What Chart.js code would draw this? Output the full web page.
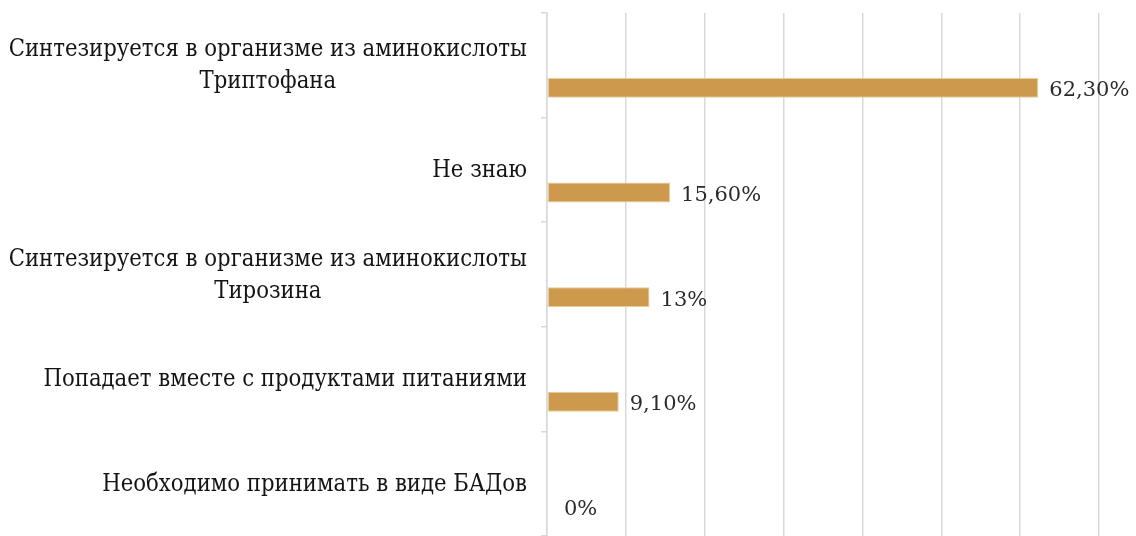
<!DOCTYPE html>
<html lang="ru">
<head>
<meta charset="utf-8">
<script src="https://cdn.jsdelivr.net/npm/chart.js@4/dist/chart.umd.min.js"></script>
<style>
    html, body { margin: 0; padding: 0; background: #ffffff; }
    #wrap { width: 1136px; height: 536px; }
</style>
</head>
<body>
<div id="wrap"><canvas id="answersChart"></canvas></div>
<script>
// Answers, top to bottom; multi-line answers are split into arrays
const CATEGORIES = [
    ["Синтезируется в организме из аминокислоты", "Триптофана"],
    ["Не знаю"],
    ["Синтезируется в организме из аминокислоты", "Тирозина"],
    ["Попадает вместе с продуктами питаниями"],
    ["Необходимо принимать в виде БАДов"]
];
const SHARES = [62.3, 15.6, 13, 9.1, 0];
// empty first series keeps the bars in the lower half of each row
const SPACER = [null, null, null, null, null];

const X_MIN = 0, X_MAX = 70, X_STEP = 10;

const BAR_COLOR = "#cd9a4d";
const BAR_EDGE = "#e9cc9c";
const GRID = "#d9d9d9";
const CAT_FONT = "'DejaVu Serif Condensed', 'DejaVu Serif', serif";
const VALUE_FONT = "'DejaVu Serif', serif";

function fmtShare(v) {
    if (Number.isInteger(v)) return v + "%";
    return v.toFixed(2).replace(".", ",") + "%";
}

// category names: block right-aligned to the axis, lines centred inside it
const categoryLabels = {
    id: "categoryLabels",
    afterDraw(chart) {
        const { ctx, scales: { y } } = chart;
        const right = y.right - 20;
        const lineH = 32;
        ctx.save();
        ctx.font = "23.6px " + CAT_FONT;
        ctx.fillStyle = "#141414";
        ctx.textAlign = "center";
        ctx.textBaseline = "middle";
        CATEGORIES.forEach((lines, i) => {
            const widest = Math.max(...lines.map(l => ctx.measureText(l).width));
            const cx = right - widest / 2;
            const cy = y.getPixelForValue(i) + 1;
            const top = cy - (lines.length - 1) * lineH / 2;
            lines.forEach((l, k) => ctx.fillText(l, cx, top + k * lineH));
        });
        ctx.restore();
    }
};

// value printed just past the end of each bar
const valueLabels = {
    id: "valueLabels",
    afterDatasetsDraw(chart) {
        const { ctx } = chart;
        const meta = chart.getDatasetMeta(1);
        ctx.save();
        ctx.font = "21px " + VALUE_FONT;
        ctx.fillStyle = "#2b2b2b";
        ctx.textAlign = "left";
        ctx.textBaseline = "middle";
        meta.data.forEach((bar, i) => {
            const gap = SHARES[i] === 0 ? 17 : 11;
            ctx.fillText(fmtShare(SHARES[i]), bar.x + gap, bar.y + 3);
        });
        ctx.restore();
    }
};

new Chart(document.getElementById("answersChart"), {
    type: "bar",
    data: {
        labels: CATEGORIES,
        datasets: [
            { label: "", data: SPACER },
            {
                label: "Ответы",
                data: SHARES,
                backgroundColor: BAR_COLOR,
                borderColor: BAR_EDGE,
                borderWidth: 1,
                borderSkipped: false
            }
        ]
    },
    options: {
        indexAxis: "y",
        responsive: true,
        maintainAspectRatio: false,
        animation: false,
        categoryPercentage: 0.864,
        barPercentage: 0.44,
        layout: { padding: { top: 13, right: 37, bottom: 0, left: 0 } },
        plugins: {
            legend: { display: false },
            tooltip: { enabled: false }
        },
        scales: {
            x: {
                min: X_MIN,
                max: X_MAX,
                ticks: { display: false, stepSize: X_STEP },
                grid: { color: GRID, lineWidth: 1.5, drawTicks: false },
                border: { display: false }
            },
            y: {
                ticks: { display: false },
                afterFit: (scale) => { scale.width = 547; },
                grid: { drawOnChartArea: false, color: GRID, lineWidth: 1.5, tickLength: 6 },
                border: { color: GRID, width: 1.5 }
            }
        }
    },
    plugins: [categoryLabels, valueLabels]
});
</script>
</body>
</html>
